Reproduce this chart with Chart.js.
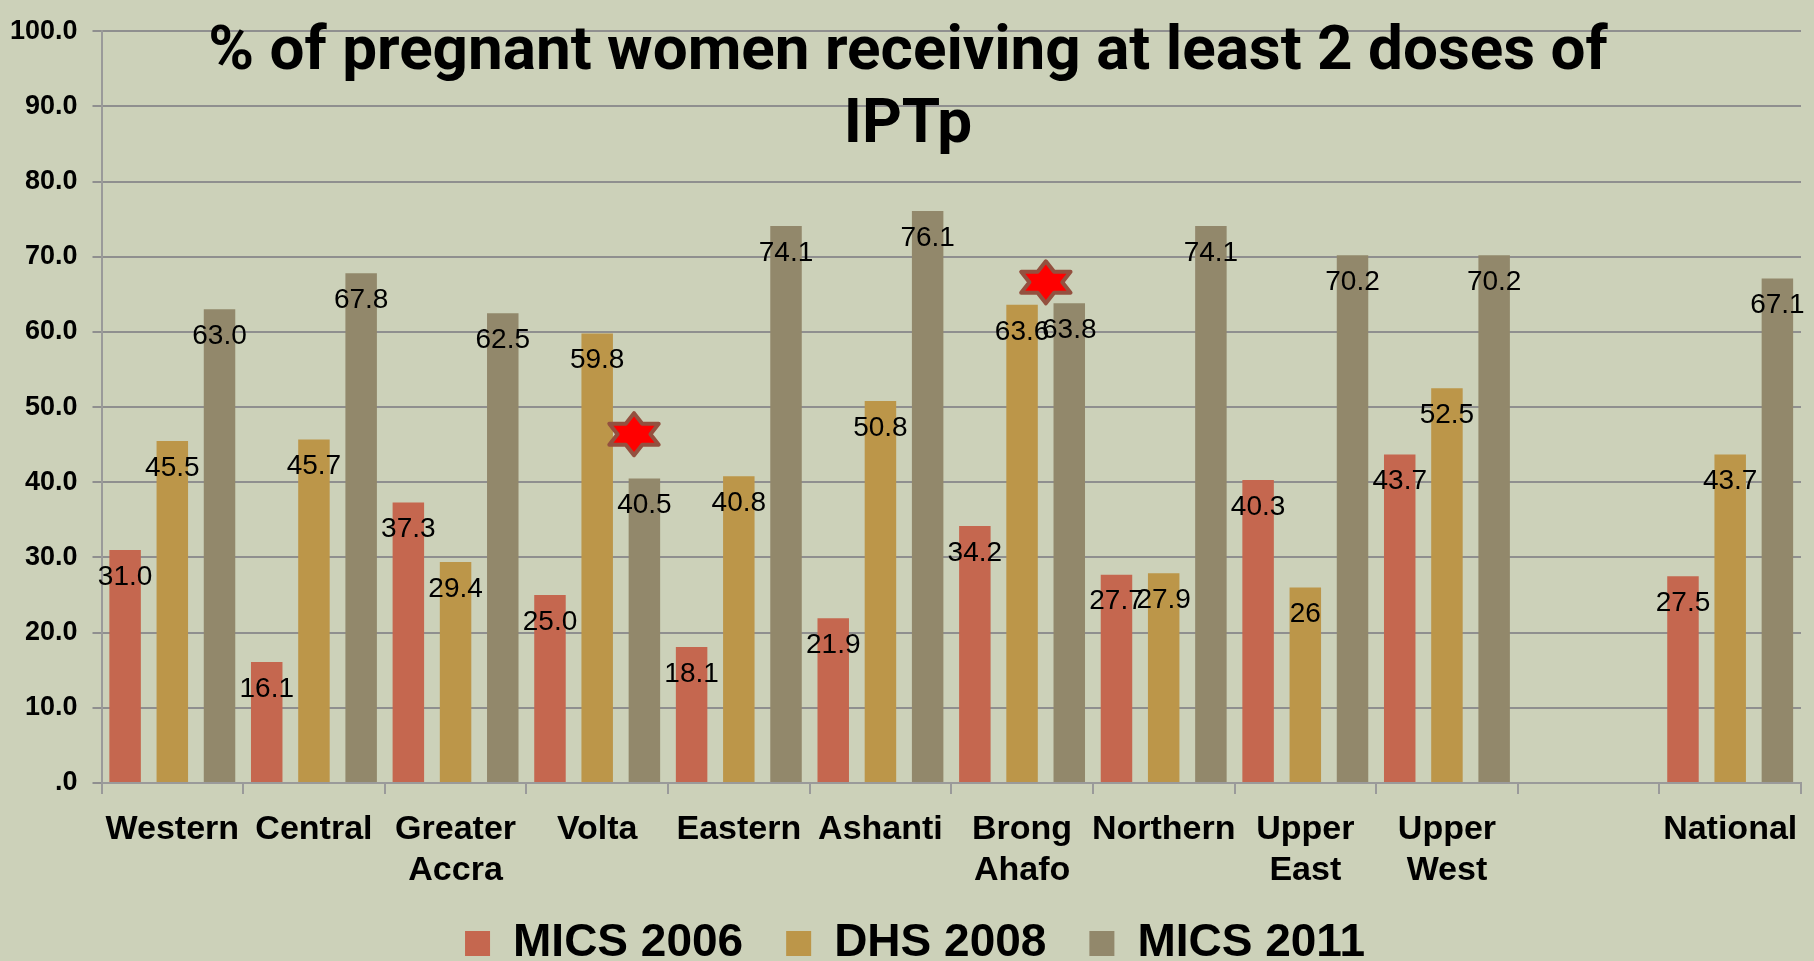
<!DOCTYPE html>
<html><head><meta charset="utf-8">
<style>html,body{margin:0;padding:0;background:#CCD1B9;overflow:hidden}canvas{display:block}</style>
<script src="https://cdn.jsdelivr.net/npm/chart.js@4"></script>
</head><body><canvas id="c" width="1814" height="961"></canvas>
<script>
const categories=[["Western"],["Central"],["Greater","Accra"],["Volta"],["Eastern"],["Ashanti"],["Brong","Ahafo"],["Northern"],["Upper","East"],["Upper","West"],[""],["National"]];
const mics2006=[31.0,16.1,37.3,25.0,18.1,21.9,34.2,27.7,40.3,43.7,null,27.5];
const dhs2008=[45.5,45.7,29.4,59.8,40.8,50.8,63.6,27.9,26,52.5,null,43.7];
const mics2011=[63.0,67.8,62.5,40.5,74.1,76.1,63.8,74.1,70.2,70.2,null,67.1];
const starX=[3.26,6.168];
const starY=[46.4,66.6];
const titleLines=["% of pregnant women receiving at least 2 doses of","IPTp"];
const SANS='"Liberation Sans", Arial, sans-serif';

function drawStar(x,cx,cy){
  x.save();x.translate(cx,cy);x.beginPath();
  for(let i=0;i<12;i++){const a=-Math.PI/2+i*Math.PI/6,r=i%2?0.577:1;
    const px=Math.cos(a)*r*28.5,py=Math.sin(a)*r*21;i?x.lineTo(px,py):x.moveTo(px,py);}
  x.closePath();x.fillStyle='#FF0000';x.fill();x.lineJoin='round';x.lineWidth=4;x.strokeStyle='#94503F';x.stroke();x.restore();
}
const overlays={
  id:'overlays',
  afterDatasetsDraw(chart){
    const ctx=chart.ctx,sx=chart.scales.x,sy=chart.scales.y;
    starX.forEach((v,i)=>drawStar(ctx,sx.getPixelForValue(v),sy.getPixelForValue(starY[i])));
    ctx.save();ctx.font='28px '+SANS;ctx.fillStyle='#000';ctx.textAlign='center';ctx.textBaseline='middle';
    chart.data.datasets.forEach((ds,i)=>{chart.getDatasetMeta(i).data.forEach((el,j)=>{
      const v=ds.data[j];if(v==null)return;
      ctx.fillText(v===26?String(v):v.toFixed(1),el.x,el.y+27);});});
    ctx.restore();
  }
};
const placeBoxes={
  id:'placeBoxes',
  beforeDraw(chart){
    const l=chart.legend,t=chart.titleBlock;
    l.left=8;l.right=1822;l.top=943.5-43-23;
    t.left=0;t.right=1816;
  }
};
new Chart(document.getElementById('c'),{
  type:'bar',
  data:{labels:categories,datasets:[
    {label:'MICS 2006',data:mics2006,backgroundColor:'#C5674F'},
    {label:'DHS 2008',data:dhs2008,backgroundColor:'#BC9649'},
    {label:'MICS 2011',data:mics2011,backgroundColor:'#92886B'}
  ]},
  options:{
    responsive:false,animation:false,
    layout:{padding:{top:14,right:13,left:0,bottom:-99}},
    datasets:{bar:{barPercentage:0.667,categoryPercentage:1}},
    scales:{
      x:{offset:true,grid:{drawOnChartArea:false,drawTicks:true,tickLength:11,color:'#9A9A9A',lineWidth:2},border:{color:'#9A9A9A',width:2},
        ticks:{font:{family:SANS,size:34,weight:'bold',lineHeight:1.206},color:'#000',maxRotation:0,autoSkip:false,padding:15},
        afterFit(s){s.height=178;}},
      y:{min:0,max:100,grid:{color:'#8F8F8F',lineWidth:2,tickLength:9},border:{color:'#9A9A9A',width:2},
        ticks:{stepSize:10,font:{family:SANS,size:27,weight:'bold'},color:'#000',padding:15,callback:v=>v===0?'.0':v.toFixed(1)},
        afterFit(s){s.width=101.5;}}
    },
    plugins:{
      tooltip:{enabled:false},
      title:{display:true,text:titleLines,color:'#000',font:{family:'Roboto, '+SANS,size:62,weight:'bold',lineHeight:1.177},padding:{top:-14,bottom:-132}},
      legend:{position:'bottom',labels:{boxWidth:25,boxHeight:25,padding:43,color:'#000',font:{family:SANS,size:46,weight:'bold'}}}
    }
  },
  plugins:[overlays,placeBoxes]
});
</script></body></html>
